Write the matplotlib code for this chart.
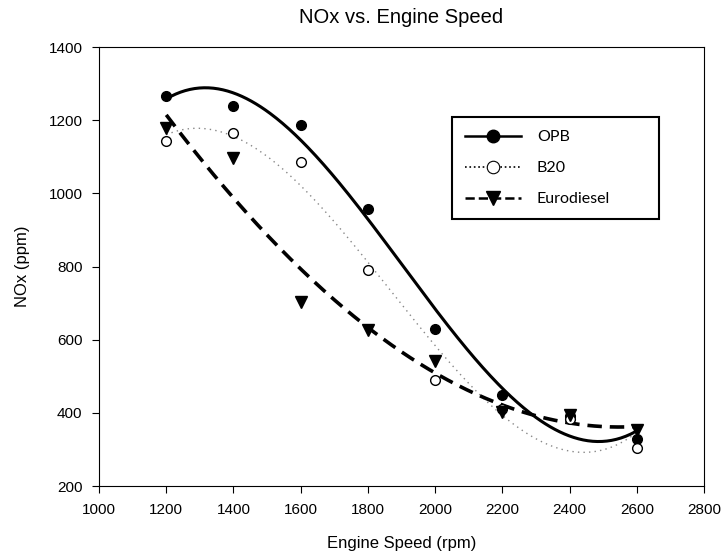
import numpy as np
import matplotlib.pyplot as plt

speed = [1200, 1400, 1600, 1800, 2000, 2200, 2400, 2600]
opb = [1266, 1238, 1186, 957, 629, 449, 392, 330]
b20 = [1142, 1164, 1087, 790, 490, 410, 382, 304]
euro = [1178, 1096, 704, 626, 542, 402, 395, 352]

plt.rcParams['font.family'] = ['Liberation Sans', 'DejaVu Sans']

fig = plt.figure(figsize=(7.23, 5.6), dpi=100)
ax = fig.add_axes([0.137, 0.132, 0.8367, 0.784])

xs = np.linspace(min(speed), max(speed), 300)

#cubic regression lines, like the original plot
def fit(y):
    return np.polyval(np.polyfit(speed, y, 3), xs)

ax.plot(xs, fit(opb), color='black', lw=2.2, zorder=2)
ax.plot(xs, fit(b20), color='#888888', lw=1.0, ls=(0, (1, 3)), zorder=2)
ax.plot(xs, fit(euro), color='black', lw=2.6, ls=(0, (4, 2.2)), zorder=2)

ax.plot(speed, opb, 'o', color='black', ms=7, zorder=3)
ax.plot(speed, b20, 'o', mfc='white', mec='black', mew=1, ms=7, zorder=3)
ax.plot(speed, euro, 'v', color='black', ms=8.5, zorder=3)

# legend handles with marker in the middle of the line
h1, = ax.plot([], [], '-o', color='black', lw=1.8, ms=9)
h2, = ax.plot([], [], ':o', color='black', lw=1.2, ms=9, mfc='white', mew=0.8)
h3, = ax.plot([], [], '--v', color='black', lw=1.8, ms=10)
leg = ax.legend([h1, h2, h3], ['OPB', 'B20', 'Eurodiesel'],
                loc='upper left', bbox_to_anchor=(0.584, 0.84, 0.342, 0.0),
                mode='expand',
                frameon=True, fancybox=False, edgecolor='black',
                prop={'family': 'Lato', 'size': 11.5},
                handlelength=3.5, labelspacing=1.05, borderpad=0.8,
                handletextpad=1.0, borderaxespad=0)
leg.get_frame().set_linewidth(1.5)
leg.get_frame().set_alpha(1)

ax.set_xlim(1000, 2800)
ax.set_ylim(200, 1400)
ax.set_xticks(range(1000, 2801, 200))
ax.set_yticks(range(200, 1401, 200))
ax.tick_params(direction='out', length=5, labelsize=11, pad=7)
ax.set_xlabel('Engine Speed (rpm)', fontsize=12, labelpad=14)
ax.set_ylabel('NOx (ppm)', fontsize=12, labelpad=13)
ax.set_title('NOx vs. Engine Speed', fontsize=14.5, pad=17)

plt.savefig('out.png', dpi=100)
